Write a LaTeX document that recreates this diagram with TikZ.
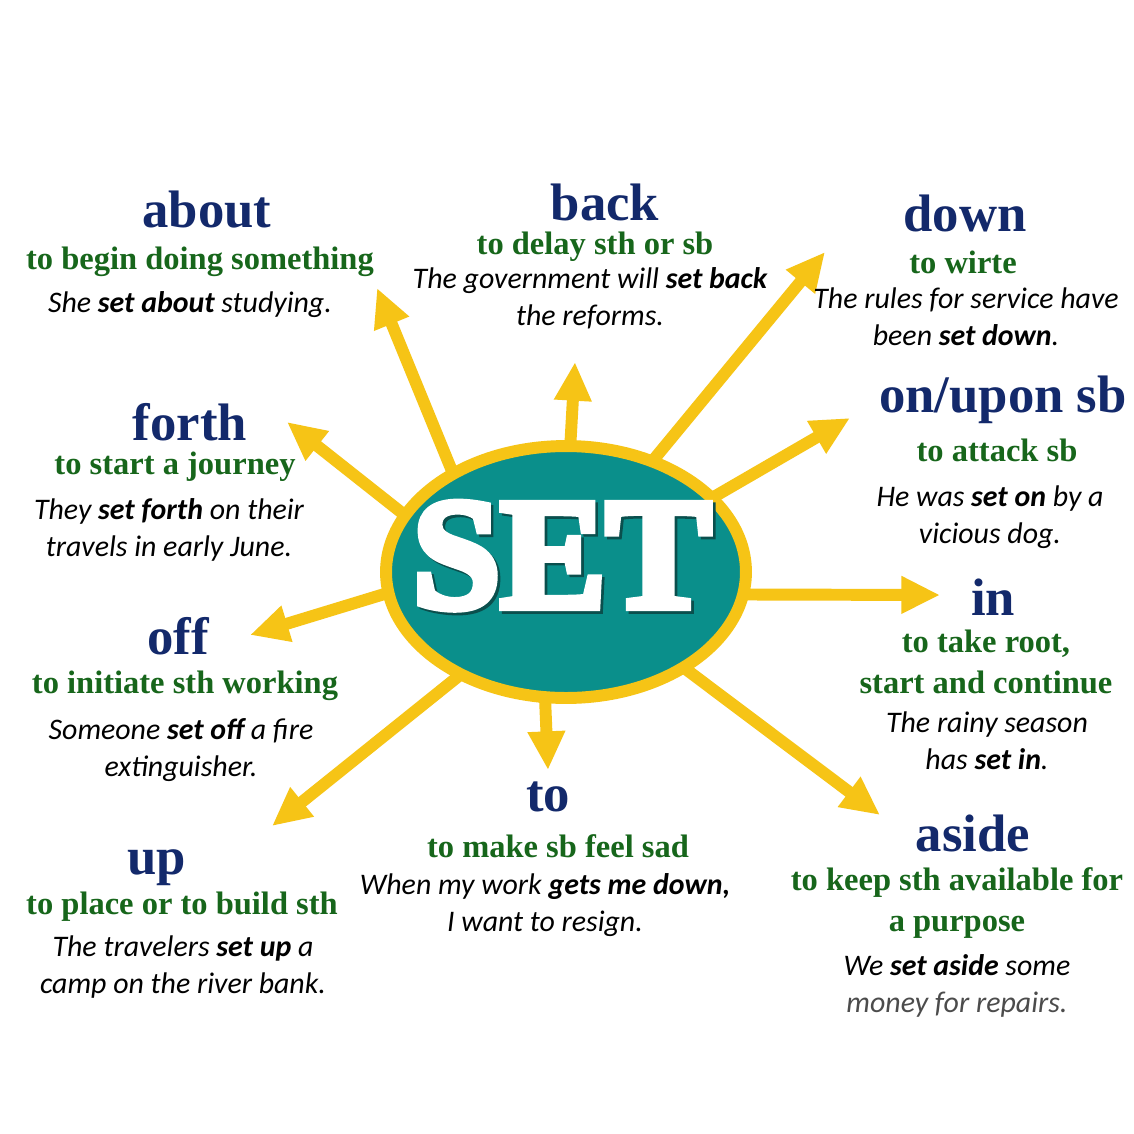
\documentclass[tikz,border=0pt]{standalone}
\usepackage{fontspec}
\setmainfont{Liberation Serif}
\newfontfamily\exfont{Carlito}
\newfontfamily\bigfont[RawFeature={embolden=5}]{Liberation Serif}
\usetikzlibrary{arrows.meta, positioning, shapes.geometric, backgrounds}

\definecolor{setteal}{HTML}{0A8F8B}
\definecolor{setshade}{HTML}{0A4F4D}
\definecolor{setyellow}{HTML}{F6C416}
\definecolor{headblue}{HTML}{13296B}
\definecolor{meangreen}{HTML}{17661B}

\begin{document}
\begin{tikzpicture}[x=0.02cm, y=-0.02cm,
        head/.style={font=\bfseries\fontsize{30}{32}\selectfont, text=headblue, inner sep=0pt},
        mean/.style={font=\bfseries\fontsize{18.5}{23}\selectfont, text=meangreen, align=center, inner sep=0pt},
        expl/.style={font=\exfont\itshape\fontsize{17}{21}\selectfont, align=center, inner sep=0pt},
        settext/.style={font=\bigfont\bfseries\fontsize{90}{96}\selectfont, text=white, inner sep=0pt},
        ray/.style={draw=setyellow, line width=6.8pt, -{Triangle[width=20pt,length=22pt]}, shorten <=-5pt}
    ]
        \useasboundingbox (0,0) rectangle (1134,1134);
        \begin{scope}[on background layer]
            \fill[white] (0,0) rectangle (1134,1134);
        \end{scope}

        % centre
        \node[ellipse, fill=setteal, draw=setyellow, line width=6.8pt, minimum width=7.2cm, minimum height=5.04cm, inner sep=0pt] (set) at (566,572) {};
        \node[settext] (setlabel) at (562,557) {\makebox[0pt][l]{\hspace{1.5pt}\raisebox{-1.5pt}{\color{setshade}SET}}SET};

        % about
        \node[head] (about) at (207,210) {about};
        \node[mean] (aboutmean) at (200,262) {to begin doing something};
        \node[expl] (aboutex) at (190,305) {She \textbf{set about} studying.};

        % back
        \node[head] (back) at (605,202) {back};
        \node[mean] (backmean) at (595,247) {to delay sth or sb};
        \node[expl] (backex) at (590,298) {The government will \textbf{set back}\\the reforms.};

        % down
        \node[head] (down) at (965,213) {down};
        \node[mean] (downmean) at (963,262) {to wirte};
        \node[expl] (downex) at (966,317) {The rules for service have\\been \textbf{set down}.};

        % forth
        \node[head] (forth) at (190,422) {forth};
        \node[mean] (forthmean) at (175,467) {to start a journey};
        \node[expl] (forthex) at (169,530) {They \textbf{set forth} on their\\travels in early June.};

        % on/upon
        \node[head] (onupon) at (1003,400) {on/upon sb};
        \node[mean] (onuponmean) at (997,450) {to attack sb};
        \node[expl] (onuponex) at (990,517) {He was \textbf{set on} by a\\vicious dog.};

        % off
        \node[head] (off) at (178,636) {off};
        \node[mean] (offmean) at (185,686) {to initiate sth working};
        \node[expl] (offex) at (181,750) {Someone \textbf{set off} a fire\\extinguisher.};

        % in
        \node[head] (in) at (993,597) {in};
        \node[mean] (inmean) at (986,662) {to take root,\\start and continue};
        \node[expl] (inex) at (987,741) {The rainy season\\has \textbf{set in}.};

        % to
        \node[head] (to) at (548,797) {to};
        \node[mean] (tomean) at (558,846) {to make sb feel sad};
        \node[expl] (toex) at (545,905) {When my work \textbf{gets me down,}\\I want to resign.};

        % up
        \node[head] (up) at (157,868) {up};
        \node[mean] (upmean) at (182,907) {to place or to build sth};
        \node[expl] (upex) at (183,967) {The travelers \textbf{set up} a\\camp on the river bank.};

        % aside
        \node[head] (aside) at (973,833) {aside};
        \node[mean] (asidemean) at (957,903) {to keep sth available for\\a purpose};
        \node[expl] (asideex) at (957,986) {We \textbf{set aside} some\\{\color{black!70}money for repairs.}};

        % arrow tips
        \coordinate (abouttip) at (377,288);
        \coordinate (backtip) at (575,362);
        \coordinate (downtip) at (825,252);
        \coordinate (onupontip) at (850,418);
        \coordinate (intip) at (940,595);
        \coordinate (asidetip) at (880,815);
        \coordinate (totip) at (548,770);
        \coordinate (uptip) at (272,826);
        \coordinate (offtip) at (250,635);
        \coordinate (forthtip) at (287,422);

        % rays
        \begin{scope}[on background layer]
            \draw[ray] (set.138.9) -- (abouttip);
            \draw[ray] (set.88.3) -- (backtip);
            \draw[ray] (set.52.9) -- (downtip);
            \draw[ray] (set.27.1) -- (onupontip);
            \draw[ray] (set.-7.1) -- (intip);
            \draw[ray] (set.-39) -- (asidetip);
            \draw[ray] (set.-99) -- (totip);
            \draw[ray] (set.224.8) -- (uptip);
            \draw[ray] (set.187.7) -- (offtip);
            \draw[ray] (set.160.9) -- (forthtip);
        \end{scope}
    \end{tikzpicture}
\end{document}
